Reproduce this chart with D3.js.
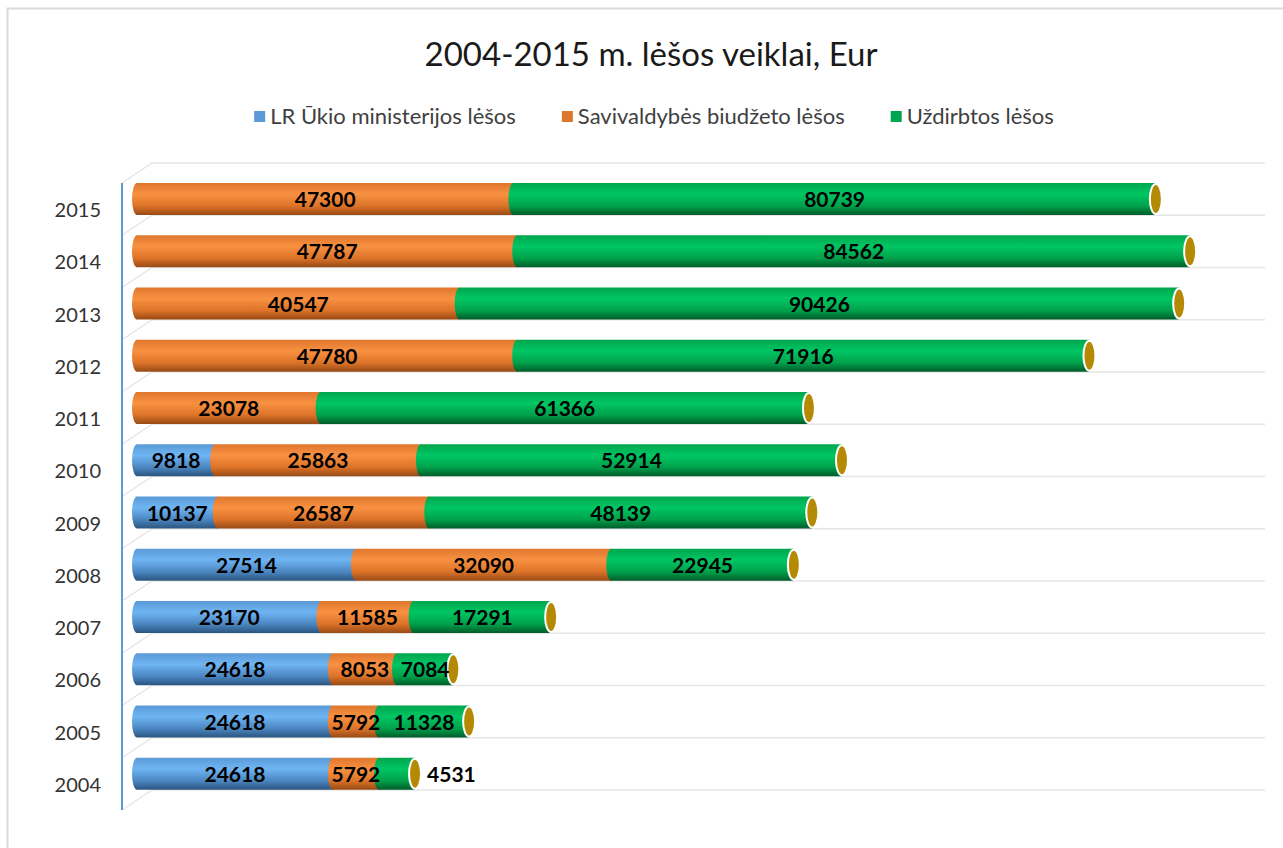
<!DOCTYPE html>
<html>
<head>
<meta charset="utf-8">
<script src="https://cdn.jsdelivr.net/npm/d3@7"></script>
<style>
  body { margin: 0; background: #fff; }
  svg { display: block; font-family: Lato, "Open Sans", sans-serif; }
</style>
</head>
<body>
<div id="chart"></div>
<script>
// *********************************************
// DATA
// *********************************************
var years = ["2004", "2005", "2006", "2007", "2008", "2009", "2010", "2011", "2012", "2013", "2014", "2015"];
var ukio = [24618, 24618, 24618, 23170, 27514, 10137, 9818, 0, 0, 0, 0, 0];
var savivaldybe = [5792, 5792, 8053, 11585, 32090, 26587, 25863, 23078, 47780, 40547, 47787, 47300];
var uzdirbtos = [4531, 11328, 7084, 17291, 22945, 48139, 52914, 61366, 71916, 90426, 84562, 80739];
var seriesNames = ["LR Ūkio ministerijos lėšos", "Savivaldybės biudžeto lėšos", "Uždirbtos lėšos"];
var title = "2004-2015 m. lėšos veiklai, Eur";

// *********************************************
// SETUP
// *********************************************
var width = 1283, height = 848;
var svg = d3.select("#chart").append("svg")
  .attr("width", width)
  .attr("height", height);

// shading for the cylinders
var shades = [
  ["#5a9ad6", "#6fb5f3", "#4b86c0", "#2a5580"],
  ["#de772d", "#f99142", "#dc7328", "#984a16"],
  ["#00a64d", "#00c663", "#00a14b", "#005c2a"]
];
var defs = svg.append("defs");
shades.forEach(function(s, i) {
  var g = defs.append("linearGradient").attr("id", "cyl" + i)
    .attr("x1", 0).attr("y1", 0).attr("x2", 0).attr("y2", 1);
  [0, 0.35, 0.72, 1].forEach(function(o, j) {
    g.append("stop").attr("offset", o).attr("stop-color", s[j]);
  });
});

// chart frame
svg.append("rect")
  .attr("x", 7.5).attr("y", 8.5)
  .attr("width", width + 20).attr("height", height + 20)
  .attr("fill", "none").attr("stroke", "#d9d9d9").attr("stroke-width", 2);

// title
svg.append("text")
  .attr("x", 651).attr("y", 66)
  .attr("text-anchor", "middle")
  .attr("font-size", 33)
  .attr("fill", "#1a1a1a")
  .text(title);

// legend
var legend = svg.append("g").attr("transform", "translate(0,117)");
var items = legend.selectAll("g").data(seriesNames).enter().append("g");
items.append("rect").attr("y", -6).attr("width", 11).attr("height", 11)
  .attr("fill", function(d, i) { return shades[i][0]; });
items.append("text").attr("x", 16).attr("y", 7)
  .attr("font-size", 22).attr("fill", "#404040")
  .text(function(d) { return d; });
var lx = 0, offs = [];
items.each(function(d, i) {
  offs.push(lx);
  lx += 16 + this.querySelector("text").getComputedTextLength() + 46;
});
lx -= 46;
items.attr("transform", function(d, i) { return "translate(" + (654 - lx / 2 + offs[i]) + ",0)"; });

// scales
var y = d3.scaleBand().domain(years.slice().reverse()).range([183, 810]);
var x = d3.scaleLinear().domain([0, 140000]).range([137, 1251]);
var depth = {dx: 30, dy: 20};

// 3D floor lines
var bounds = y.domain().map(function(d) { return y(d); }).concat([810]);
var grid = svg.append("g");
grid.selectAll("path.diag").data(bounds).enter().append("path")
  .attr("d", function(b) { return "M122," + b + "L" + (122 + depth.dx) + "," + (b - depth.dy) + "H1265"; })
  .attr("fill", "none").attr("stroke", "#e6e6e6").attr("stroke-width", 1.5);

// axis line
svg.append("line")
  .attr("x1", 122).attr("x2", 122).attr("y1", 183).attr("y2", 810)
  .attr("stroke", "#5b9bd5").attr("stroke-width", 2);

// year labels
svg.append("g").selectAll("text").data(years).enter().append("text")
  .attr("x", 101).attr("y", function(d) { return y(d) + y.bandwidth() / 2 + 8; })
  .attr("text-anchor", "end").attr("font-size", 20).attr("fill", "#333")
  .text(function(d) { return d; });

// bars
var barH = 32, rx = 5;
var rows = years.map(function(yr, i) {
  var vals = [ukio[i], savivaldybe[i], uzdirbtos[i]];
  var segs = [], acc = 0;
  vals.forEach(function(v, k) {
    if (v > 0) segs.push({year: yr, k: k, v: v, x0: acc, x1: acc + v});
    acc += v;
  });
  return {year: yr, total: acc, segs: segs};
});

var bars = svg.append("g").selectAll("g").data(rows).enter().append("g")
  .attr("transform", function(d) { return "translate(0," + y(d.year) + ")"; });

bars.selectAll("path").data(function(d) { return d.segs; }).enter().append("path")
  .attr("d", function(s) {
    var a = x(s.x0), b = x(s.x1);
    return "M" + b + ",0L" + a + ",0A" + rx + "," + (barH / 2) + " 0 0 0 " + a + "," + barH + "L" + b + "," + barH + "Z";
  })
  .attr("fill", function(s) { return "url(#cyl" + s.k + ")"; });

bars.append("ellipse")
  .attr("cx", function(d) { return x(d.total); })
  .attr("cy", barH / 2)
  .attr("rx", rx + 1).attr("ry", barH / 2 - 1)
  .attr("fill", "#b48a05").attr("stroke", "#fff").attr("stroke-width", 2);

bars.selectAll("text").data(function(d) { return d.segs; }).enter().append("text")
  .attr("x", function(s) {
    var w = x(s.x1) - x(s.x0);
    return w < 40 ? x(s.x1) + 12 : (x(s.x0) + x(s.x1)) / 2;
  })
  .attr("text-anchor", function(s) { return x(s.x1) - x(s.x0) < 40 ? "start" : "middle"; })
  .attr("y", barH / 2 + 8)
  .attr("font-size", 21).attr("font-weight", "bold").attr("fill", "#000")
  .text(function(s) { return s.v; });
</script>
</body>
</html>
